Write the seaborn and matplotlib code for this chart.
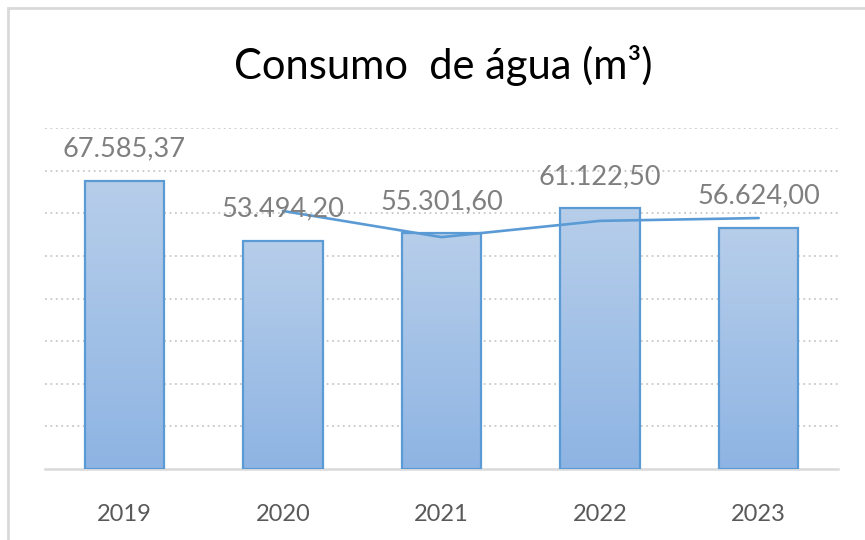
import numpy as np
import pandas as pd
import matplotlib
matplotlib.use("Agg")
import matplotlib.pyplot as plt
import seaborn as sns
from matplotlib.colors import LinearSegmentedColormap
from matplotlib.patches import Rectangle

years = ["2019", "2020", "2021", "2022", "2023"]
consumo = [67585.37, 53494.20, 55301.60, 61122.50, 56624.00]
labels = ["67.585,37", "53.494,20", "55.301,60", "61.122,50", "56.624,00"]
# 2-period moving average trendline
ma_years = ["2020", "2021", "2022", "2023"]
ma_vals = [60540, 54398, 58212, 58873]

sns.set_theme(style="white")
plt.rcParams['font.family'] = ['Lato', 'DejaVu Sans']

fig = plt.figure(figsize=(8.65, 5.4), dpi=100)
ax = fig.add_axes([45/865, 1-469/540, (838-45)/865, (469-128)/540])

df = pd.DataFrame({"ano": years, "consumo": consumo})
sns.barplot(data=df, x="ano", y="consumo", ax=ax, width=0.5,
            color="#A9C5E8", edgecolor="#5B9BD5", linewidth=1.6, zorder=3)

cmap = LinearSegmentedColormap.from_list("g", ["#8EB4E3", "#B7CEEA"])
grad = np.linspace(0, 1, 256).reshape(-1, 1)
for p in list(ax.patches):
    x0, y0 = p.get_x(), p.get_y()
    w, h = p.get_width(), p.get_height()
    im = ax.imshow(grad, extent=[x0, x0 + w, y0, y0 + h], origin="lower",
                   cmap=cmap, aspect="auto", zorder=2.5)
    im.set_clip_path(p)
    p.set_facecolor("none")

xi = [years.index(y) for y in ma_years]
sns.lineplot(x=xi, y=ma_vals, ax=ax, color="#5B9BD5", linewidth=1.9, zorder=4)

for i, (v, lab) in enumerate(zip(consumo, labels)):
    ax.annotate(lab, (i, v), xytext=(0, 14), textcoords="offset points",
                ha="center", va="bottom", fontsize=19.5, color="#7F7F7F", zorder=5)

ax.set_xlim(-0.5, 4.5)
ax.set_ylim(0, 80000)
ax.set_yticks(np.arange(10000, 80001, 10000))
ax.yaxis.grid(True, linestyle=(0, (1, 2)), color="#C8C8C8", linewidth=1.3, zorder=0)
ax.set_yticklabels([])
ax.tick_params(axis="y", length=0)
ax.tick_params(axis="x", length=0, pad=25, labelsize=17, labelcolor="#595959")
ax.set_xlabel("")
ax.set_ylabel("")
for s in ["top", "right", "left"]:
    ax.spines[s].set_visible(False)
ax.spines["bottom"].set_color("#D9D9D9")
ax.spines["bottom"].set_linewidth(1.8)
ax.set_facecolor("none")

fig.text(443/865, 1-66/540, "Consumo  de água (m³)", ha="center", va="center",
         fontsize=30, color="black")

fig.patches.append(Rectangle((8/865, -0.1), 1.2, 1 - 8/540 + 0.1,
                             transform=fig.transFigure, fill=False,
                             edgecolor="#D9D9D9", linewidth=2))

fig.savefig("out.png", dpi=100)
